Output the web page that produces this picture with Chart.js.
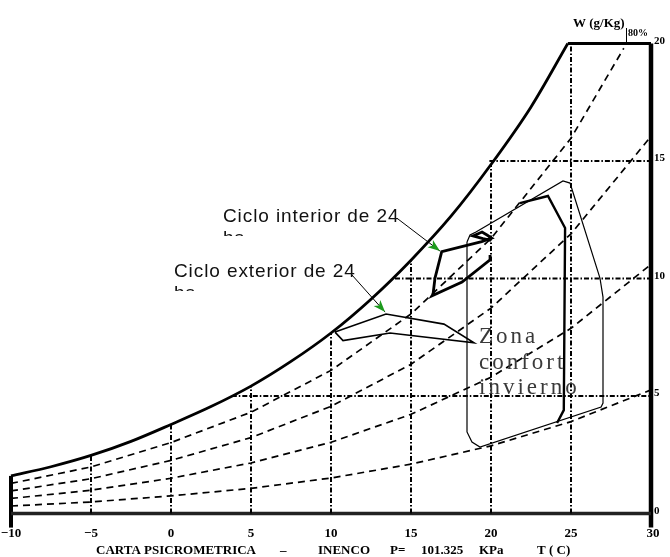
<!DOCTYPE html>
<html>
<head>
<meta charset="utf-8">
<script src="https://cdn.jsdelivr.net/npm/chart.js@4.4.1/dist/chart.umd.min.js"></script>
<style>
  html, body { margin: 0; padding: 0; background: #fff; }
  #wrap { width: 670px; height: 557px; }
</style>
</head>
<body>
<div id="wrap"><canvas id="psico" width="670" height="557"></canvas></div>
<script>
// axis ticks
const xTicks = [-10, -5, 0, 5, 10, 15, 20, 25, 30];
const yTicks = [0, 5, 10, 15, 20];

// saturation curve (T in C, W in g/kg), then the 20 g/kg top edge
const satT = [-10, -7.5, -5, -2.5, 0, 2.5, 5, 7.5, 10, 12.5, 15, 17.5, 20, 22.5, 24.8];
const satW = [1.60, 1.99, 2.47, 3.07, 3.79, 4.55, 5.42, 6.47, 7.68, 9.12, 10.78, 12.65, 14.85, 17.3, 20];
const topT = [24.8, 30];
const topW = [20, 20];

// relative humidity curves
const rhT = [-10, -5, 0, 5, 10, 15, 20, 25, 30];
const rh80T = [-10, -5, 0, 5, 10, 15, 20, 25, 28.3];
const rh80 = [1.28, 1.98, 3.02, 4.31, 6.09, 8.49, 11.70, 15.97, 19.8];
const rh60 = [0.96, 1.48, 2.26, 3.23, 4.56, 6.35, 8.74, 11.90, 16.05];
const rh40 = [0.64, 0.99, 1.50, 2.15, 3.03, 4.22, 5.80, 7.88, 10.60];
const rh20 = [0.32, 0.49, 0.75, 1.07, 1.51, 2.10, 2.88, 3.91, 5.26];

// grid lines clipped by the saturation curve
const gridVT = [-5, 0, 5, 10, 15, 20, 25];
const gridVTop = [2.47, 3.79, 5.42, 7.68, 10.78, 14.85, 20];
const gridHW = [5, 10, 15];
const gridHStart = [3.8, 14.0, 19.9];

// comfort zone (outer, thin) and inner limit (bold)
const confT = [18.5, 18.69, 19.06, 24.5, 24.94, 26.81, 27.0, 27.0, 26.88, 19.31, 18.81, 18.5, 18.5];
const confW = [11.55, 11.85, 11.98, 14.15, 14.06, 10.02, 9.21, 4.70, 4.53, 2.83, 3.04, 3.47, 11.55];
const innerT = [21.81, 23.56, 24.63, 24.55, 24.13];
const innerW = [13.21, 13.51, 12.15, 4.40, 3.85];

// 24 h cycles
const extT = [10.25, 13.44, 17.06, 18.94, 13.69, 10.75, 10.25];
const extW = [7.72, 8.49, 8.06, 7.26, 7.68, 7.36, 7.72];
const intT = [19.94, 19.94, 18.19, 16.31, 16.38, 16.5, 16.92, 19.42, 20.04, 19.75, 19.44, 18.88, 19.5, 20.0];
const intW = [11.0, 10.79, 9.85, 9.26, 9.34, 10.02, 11.14, 11.57, 11.72, 11.85, 11.98, 11.81, 11.7, 11.62];

function pts(xs, ys) {
  return xs.map((x, i) => ({ x: x, y: ys[i] }));
}

function line(data, width, dash, extra) {
  return Object.assign({
    data: data,
    showLine: true,
    borderColor: '#000',
    borderWidth: width,
    borderDash: dash || [],
    pointRadius: 0,
    fill: false,
    tension: 0,
    clip: false
  }, extra || {});
}

const datasets = [];
gridVT.forEach((t, i) => {
  datasets.push(line([{ x: t, y: 0 }, { x: t, y: gridVTop[i] }], 2, [5, 2, 1.5, 2]));
});
gridHW.forEach((w, i) => {
  datasets.push(line([{ x: gridHStart[i], y: w }, { x: 30, y: w }], 2, [5, 2, 1.5, 2]));
});
datasets.push(line(pts(rh80T, rh80), 1.7, [7, 5]));
datasets.push(line(pts(rhT, rh60), 1.7, [7, 5]));
datasets.push(line(pts(rhT, rh40), 1.7, [7, 5]));
datasets.push(line(pts(rhT, rh20), 1.7, [7, 5]));
datasets.push(line(pts(confT, confW), 1.2));
datasets.push(line(pts(innerT, innerW), 2.4));
datasets.push(line(pts(extT, extW), 1.6));
datasets.push(line(pts(intT, intW), 2.8));
datasets.push(line(pts(satT, satW), 2.8, [], { cubicInterpolationMode: 'monotone' }));
datasets.push(line(pts(topT, topW), 3.2));
// frame
datasets.push(line([{ x: -10, y: 0 }, { x: 30, y: 0 }], 3.5, [], { borderColor: '#222' }));
datasets.push(line([{ x: -10, y: -0.6 }, { x: -10, y: satW[0] }], 4));
datasets.push(line([{ x: 30, y: -0.6 }, { x: 30, y: 20 }], 4.5));

const arrows = [
  { from: [14.19, 12.53], to: [16.81, 11.17] },
  { from: [11.31, 10.15], to: [13.38, 8.57] }
];

const labelPlugin = {
  id: 'labels',
  afterDatasetsDraw(chart) {
    const ctx = chart.ctx;
    const xs = chart.scales.x, ys = chart.scales.y;
    ctx.save();
    ctx.fillStyle = '#000';

    // bottom tick labels
    ctx.font = 'bold 13px "Liberation Serif"';
    ctx.textAlign = 'center';
    ctx.textBaseline = 'alphabetic';
    xTicks.forEach(t => {
      let lbl = t < 0 ? '\u2212' + Math.abs(t) : String(t);
      ctx.fillText(lbl, xs.getPixelForValue(t) + (t === 30 ? 2 : 0), 537);
    });

    // right tick labels
    ctx.font = 'bold 11px "Liberation Serif"';
    ctx.textAlign = 'left';
    yTicks.forEach(w => {
      ctx.fillText(String(w), 654, ys.getPixelForValue(w));
    });

    // title
    ctx.font = 'bold 13px "Liberation Serif"';
    const title = [['CARTA PSICROMETRICA', 96], ['\u2013', 280], ['INENCO', 318], ['P=', 390],
                   ['101.325', 421], ['KPa', 479], ['T ( C)', 537]];
    title.forEach(p => ctx.fillText(p[0], p[1], 554));

    ctx.fillText('W (g/Kg)', 573, 27);
    ctx.font = 'bold 10px "Liberation Serif"';
    ctx.fillText('80%', 628, 36);
    ctx.lineWidth = 1;
    ctx.beginPath();
    ctx.moveTo(626.5, 28);
    ctx.lineTo(626.5, 43);
    ctx.stroke();

    // annotations
    ctx.font = '19px "Liberation Sans Narrow", "Liberation Sans"';
    ctx.letterSpacing = '0.9px';
    ctx.fillStyle = '#111';
    ctx.fillText('Ciclo interior de 24', 223, 222);
    ctx.fillText('Ciclo exterior de 24', 174, 277);
    ctx.save();
    ctx.beginPath();
    ctx.rect(150, 228, 120, 8);
    ctx.rect(150, 284, 120, 7);
    ctx.clip();
    ctx.fillText('hs', 223, 244);
    ctx.fillText('hs', 174, 299);
    ctx.restore();

    arrows.forEach(a => {
      const x0 = xs.getPixelForValue(a.from[0]), y0 = ys.getPixelForValue(a.from[1]);
      const x1 = xs.getPixelForValue(a.to[0]), y1 = ys.getPixelForValue(a.to[1]);
      ctx.strokeStyle = '#000';
      ctx.lineWidth = 1;
      ctx.beginPath();
      ctx.moveTo(x0, y0);
      ctx.lineTo(x1, y1);
      ctx.stroke();
      const ang = Math.atan2(y1 - y0, x1 - x0);
      ctx.fillStyle = '#1d9a1d';
      ctx.beginPath();
      ctx.moveTo(x1, y1);
      ctx.lineTo(x1 - 13 * Math.cos(ang - 0.35), y1 - 13 * Math.sin(ang - 0.35));
      ctx.lineTo(x1 - 9 * Math.cos(ang), y1 - 9 * Math.sin(ang));
      ctx.lineTo(x1 - 13 * Math.cos(ang + 0.35), y1 - 13 * Math.sin(ang + 0.35));
      ctx.closePath();
      ctx.fill();
    });

    ctx.font = '23px "Liberation Serif"';
    ctx.letterSpacing = '3px';
    ctx.fillStyle = '#3a3a3a';
    ctx.fillText('Zona', 479, 343);
    ctx.fillText('confort', 479, 369);
    ctx.fillText('invierno', 479, 394);
    ctx.restore();
  }
};

new Chart(document.getElementById('psico'), {
  type: 'scatter',
  data: { datasets: datasets },
  options: {
    responsive: false,
    animation: false,
    layout: { padding: { left: 11, right: 19, top: 43.5, bottom: 43.5 } },
    scales: {
      x: { type: 'linear', min: -10, max: 30, display: false },
      y: { type: 'linear', min: 0, max: 20, display: false }
    },
    plugins: {
      legend: { display: false },
      tooltip: { enabled: false }
    }
  },
  plugins: [labelPlugin]
});
</script>
</body>
</html>
